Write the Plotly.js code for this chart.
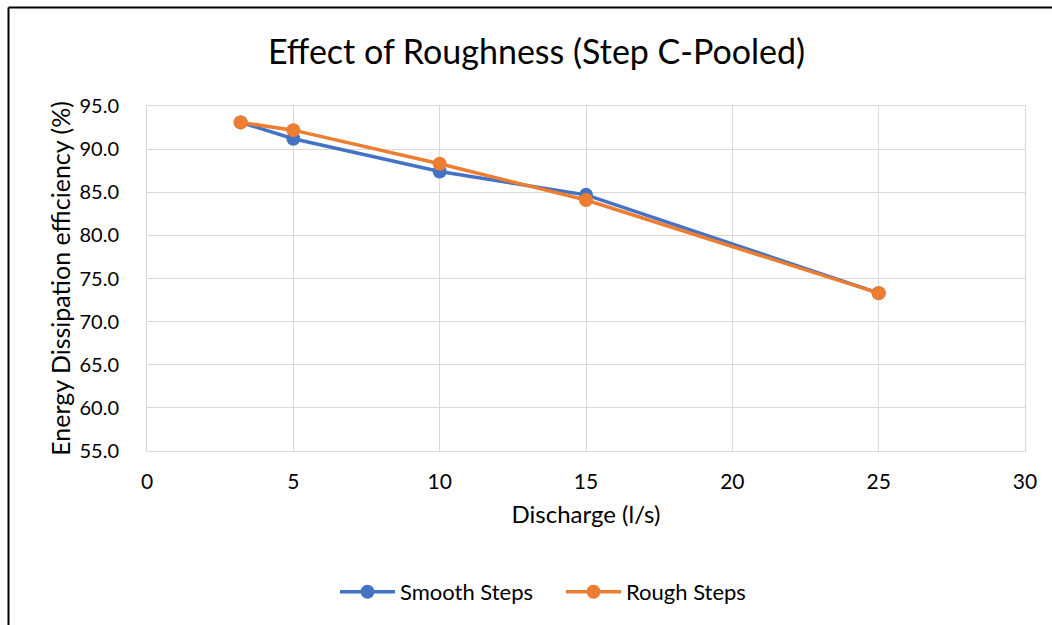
<!DOCTYPE html>
<html>
<head>
<meta charset="utf-8">
<script src="https://cdn.plot.ly/plotly-3.0.1.min.js"></script>
<style>html,body{margin:0;padding:0;background:#fff;}#chart{width:1052px;height:625px;}</style>
</head>
<body>
<div id="chart"></div>
<script>
var discharge = [3.2, 5, 10, 15, 25];
var smoothSteps = [93.1, 91.2, 87.4, 84.7, 73.3];
var roughSteps = [93.1, 92.2, 88.3, 84.1, 73.3];
var seriesNames = ["Smooth Steps", "Rough Steps"];

var FONT = "Lato, 'Open Sans', sans-serif";
var traces = [
  {x: discharge, y: smoothSteps, name: seriesNames[0], mode: "lines+markers",
   line: {color: "#4472C4", width: 3.5}, marker: {color: "#4472C4", size: 14}},
  {x: discharge, y: roughSteps, name: seriesNames[1], mode: "lines+markers",
   line: {color: "#ED7D31", width: 3.5}, marker: {color: "#ED7D31", size: 14}}
];
var L = 147, R = 27, T = 106, B = 174, W = 1052, H = 625;
var pw = W - L - R, ph = H - T - B;
var bx = (8.5 - L) / pw, by = (H - B - 7.5) / ph;
var layout = {
  width: W, height: H,
  margin: {l: L, r: R, t: T, b: B},
  paper_bgcolor: "#fff", plot_bgcolor: "#fff",
  font: {family: FONT, color: "#000"},
  title: {text: "Effect of Roughness (Step C-Pooled)", font: {size: 34, family: FONT, color: "#000"},
          x: 0.51, xref: "container", y: 1 - 52 / 625, yref: "container", xanchor: "center", yanchor: "middle"},
  xaxis: {range: [0, 30], dtick: 5, tick0: 0, showgrid: true, gridcolor: "#d9d9d9", gridwidth: 1,
          zeroline: false, showline: true, linecolor: "#d9d9d9", linewidth: 1, mirror: true,
          ticks: "", ticklabelstandoff: 12, tickfont: {size: 21, family: FONT, color: "#000"},
          title: {text: "Discharge (l/s)", font: {size: 24, family: FONT, color: "#000"}, standoff: 13}},
  yaxis: {range: [55, 95], dtick: 5, tick0: 55, tickformat: ".1f", showgrid: true, gridcolor: "#d9d9d9", gridwidth: 1,
          zeroline: false, showline: true, linecolor: "#d9d9d9", linewidth: 1, mirror: true,
          ticks: "", ticklabelstandoff: 23, tickfont: {size: 20, family: FONT, color: "#000"},
          title: {text: "Energy Dissipation efficiency (%)", font: {size: 25, family: FONT, color: "#000"}, standoff: 1}},
  legend: {orientation: "h", x: 335 / 1052, xref: "container", xanchor: "left", y: 1 - 592 / 625, yref: "container", yanchor: "middle",
           font: {size: 22, family: FONT, color: "#000"}, itemwidth: 55, entrywidth: 156, entrywidthmode: "pixels", traceorder: "normal"},
  shapes: [
    {type: "line", xref: "paper", yref: "paper", x0: bx, x1: bx, y0: -1, y1: by, line: {color: "#000", width: 2}},
    {type: "line", xref: "paper", yref: "paper", x0: bx, x1: 1.2, y0: by, y1: by, line: {color: "#000", width: 2}}
  ]
};
Plotly.newPlot("chart", traces, layout, {displayModeBar: false, staticPlot: true});
</script>
</body>
</html>
